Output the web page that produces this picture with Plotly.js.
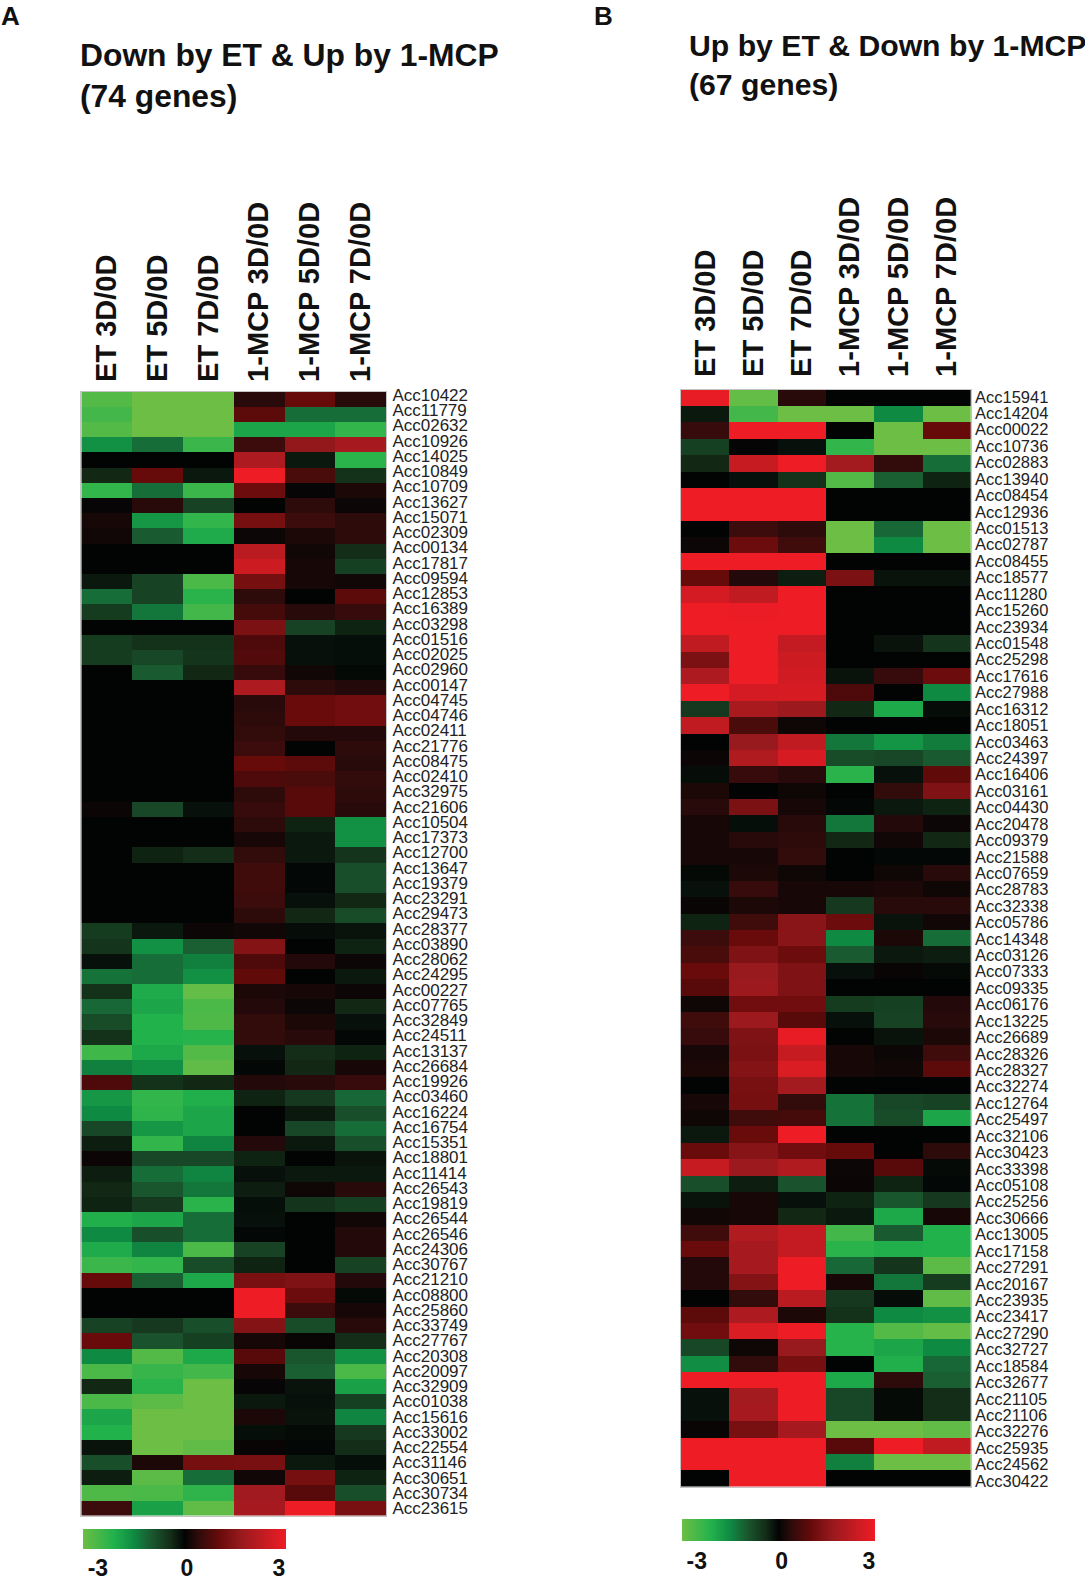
<!DOCTYPE html>
<html>
<head>
<meta charset="utf-8">
<script src="https://cdn.plot.ly/plotly-3.0.1.min.js"></script>
<style>
  html, body { margin: 0; padding: 0; background: #fff; }
  #chart { width: 1085px; height: 1581px; }
</style>
</head>
<body>
<div id="chart"></div>
<script>
const columns = ['ET 3D/0D', 'ET 5D/0D', 'ET 7D/0D', '1-MCP 3D/0D', '1-MCP 5D/0D', '1-MCP 7D/0D'];

const genesA = [
  'Acc10422','Acc11779','Acc02632','Acc10926','Acc14025','Acc10849','Acc10709','Acc13627','Acc15071','Acc02309',
  'Acc00134','Acc17817','Acc09594','Acc12853','Acc16389','Acc03298','Acc01516','Acc02025','Acc02960','Acc00147',
  'Acc04745','Acc04746','Acc02411','Acc21776','Acc08475','Acc02410','Acc32975','Acc21606','Acc10504','Acc17373',
  'Acc12700','Acc13647','Acc19379','Acc23291','Acc29473','Acc28377','Acc03890','Acc28062','Acc24295','Acc00227',
  'Acc07765','Acc32849','Acc24511','Acc13137','Acc26684','Acc19926','Acc03460','Acc16224','Acc16754','Acc15351',
  'Acc18801','Acc11414','Acc26543','Acc19819','Acc26544','Acc26546','Acc24306','Acc30767','Acc21210','Acc08800',
  'Acc25860','Acc33749','Acc27767','Acc20308','Acc20097','Acc32909','Acc01038','Acc15616','Acc33002','Acc22554',
  'Acc31146','Acc30651','Acc30734','Acc23615'
];

const valuesA = [
  [-2.7,-3,-3,.35,1,.35],
  [-2.5,-3,-3,.9,-1.2,-1.2],
  [-2.7,-3,-3,-1.9,-1.9,-2.3],
  [-1.6,-1.2,-2.4,.55,1.6,1.9],
  [0,0,0,2,-.2,-2.2],
  [-.35,1,-.2,3,.7,-.45],
  [-2.3,-1.2,-2.4,1.1,.05,.25],
  [.05,.35,-.7,0,.4,.1],
  [.2,-1.7,-2.3,1.2,.55,.4],
  [.15,-1,-2,.1,.25,.4],
  [0,0,0,2.2,.15,-.4],
  [0,0,0,2.5,.2,-.65],
  [-.2,-.7,-2.6,1.2,.2,.15],
  [-1.2,-.7,-2.2,.4,0,.9],
  [-.6,-1.3,-2.5,.65,.35,.5],
  [0,0,0,1.3,-.7,-.3],
  [-.6,-.45,-.45,.75,-.12,-.1],
  [-.6,-.75,-.5,.8,-.12,-.1],
  [0,-1,-.35,.5,.15,-.05],
  [0,0,0,2,.4,.3],
  [0,0,0,.35,1.05,1.15],
  [0,0,0,.4,1.05,1.15],
  [0,0,0,.45,.3,.3],
  [0,0,0,.55,0,.4],
  [0,0,0,1,.9,.35],
  [0,0,0,.75,.7,.45],
  [0,0,0,.4,.85,.4],
  [.08,-.75,-.12,.5,.85,.35],
  [0,0,0,.4,-.3,-1.6],
  [0,0,0,.2,-.2,-1.6],
  [0,-.3,-.4,.45,-.2,-.5],
  [0,0,0,.6,-.03,-.85],
  [0,0,0,.6,-.03,-.85],
  [0,0,0,.55,-.12,-.35],
  [0,0,0,.4,-.35,-.8],
  [-.6,-.2,.1,.15,-.08,-.15],
  [-.5,-1.6,-1.05,1.4,0,-.3],
  [-.12,-1.2,-1.4,.75,.3,.1],
  [-1.25,-1.2,-1.6,.95,0,-.2],
  [-.45,-2,-2.9,.25,.2,.1],
  [-1.15,-1.9,-2.6,.3,.1,-.35],
  [-.8,-2.1,-2.65,.45,.25,-.12],
  [-.45,-2.1,-2.15,.45,.35,-.03],
  [-2.45,-1.95,-2.7,-.12,-.4,-.3],
  [-1.4,-1.6,-2.85,-.03,-.35,.2],
  [.75,-.45,-.35,.3,.35,.5],
  [-1.7,-2.3,-2.05,-.3,-.55,-1.15],
  [-1.5,-2.25,-1.9,0,-.2,-.85],
  [-.75,-1.7,-1.9,0,-.75,-1.2],
  [-.25,-2.3,-1.45,.3,-.2,-.85],
  [.08,-.75,-.75,-.3,0,-.15],
  [-.25,-1.2,-1.45,-.12,-.2,-.2],
  [-.35,-.95,-1.3,-.25,.12,.35],
  [-.3,-.55,-2.2,-.1,-.5,-.65],
  [-2.05,-1.9,-1.2,-.12,0,.15],
  [-1.5,-.85,-1.2,-.03,0,.3],
  [-2,-1.45,-2.6,-.7,0,.3],
  [-2.4,-2.3,-.8,-.3,0,-.7],
  [1,-1.05,-1.95,1.25,1.35,.3],
  [0,0,0,3,1.1,-.06],
  [0,0,0,3,.55,.2],
  [-.7,-.55,-.85,1.4,-.8,.35],
  [1.05,-.9,-.65,.2,.06,-.4],
  [-1.5,-2.7,-1.95,.85,-.95,-1.6],
  [-2.6,-2.35,-2.5,.2,-1.05,-2.6],
  [-.35,-2.2,-3,.05,-.15,-1.85],
  [-2.6,-2.8,-3,-.2,-.12,-.65],
  [-1.9,-3,-3,.25,-.15,-1.45],
  [-2.1,-3,-3,-.1,-.06,-.55],
  [-.15,-3,-2.85,.06,-.03,-.4],
  [-.85,.25,1.2,1.25,-.2,-.1],
  [-.25,-2.8,-1.2,.15,1.2,-.3],
  [-2.65,-2.6,-2.25,1.8,.85,-.85],
  [.55,-1.85,-2.85,1.9,3,1.25]
];

const genesB = [
  'Acc15941','Acc14204','Acc00022','Acc10736','Acc02883','Acc13940','Acc08454','Acc12936','Acc01513','Acc02787',
  'Acc08455','Acc18577','Acc11280','Acc15260','Acc23934','Acc01548','Acc25298','Acc17616','Acc27988','Acc16312',
  'Acc18051','Acc03463','Acc24397','Acc16406','Acc03161','Acc04430','Acc20478','Acc09379','Acc21588','Acc07659',
  'Acc28783','Acc32338','Acc05786','Acc14348','Acc03126','Acc07333','Acc09335','Acc06176','Acc13225','Acc26689',
  'Acc28326','Acc28327','Acc32274','Acc12764','Acc25497','Acc32106','Acc30423','Acc33398','Acc05108','Acc25256',
  'Acc30666','Acc13005','Acc17158','Acc27291','Acc20167','Acc23935','Acc23417','Acc27290','Acc32727','Acc18584',
  'Acc32677','Acc21105','Acc21106','Acc32276','Acc25935','Acc24562','Acc30422'
];

const valuesB = [
  [2.9,-2.9,.35,0,0,0],
  [-.2,-2.5,-3,-3,-1.5,-3],
  [.5,3,3,0,-3,1],
  [-.65,.03,-.12,-2.3,-3,-3],
  [-.35,2.4,3,1.85,.45,-1.2],
  [0,-.12,-.45,-2.7,-1.05,-.3],
  [3,3,3,0,0,0],
  [3,3,3,0,0,0],
  [0,.55,.4,-3,-1.15,-3],
  [.1,1.1,.6,-3,-1.5,-3],
  [3,3,3,0,0,0],
  [1,.3,-.25,1.3,-.15,-.15],
  [2.6,2.3,3,0,0,0],
  [3,2.95,3,0,0,0],
  [3,3,3,0,0,0],
  [2.3,3,2.35,0,-.15,-.5],
  [1.3,3,2.5,0,0,0],
  [2,3,2.55,-.15,.5,1.1],
  [3,2.6,2.65,.75,0,-1.5],
  [-.55,1.95,1.75,-.35,-1.95,-.08],
  [2.3,.7,.12,0,0,0],
  [0,1.7,2.3,-1.3,-1.65,-1.35],
  [.08,2.05,2.65,-.8,-.75,-1],
  [-.08,.5,.35,-2.2,-.12,.95],
  [.25,0,.12,0,.45,1.35],
  [.35,1.3,.2,-.03,-.2,-.3],
  [.2,-.1,.35,-1.3,.3,.1],
  [.2,.35,.4,-.35,.15,-.35],
  [.2,.2,.45,0,-.03,-.03],
  [-.05,.25,.12,0,.12,.35],
  [-.12,.5,.2,.2,.25,.12],
  [.06,.25,.2,-.55,.35,.35],
  [-.3,.6,1.5,1.1,-.15,.15],
  [.55,1.05,1.5,-1.5,.25,-1.2],
  [.7,1.35,1.1,-1,-.2,-.25],
  [1.05,1.7,1.35,-.12,.06,-.06],
  [.85,1.75,1.35,0,0,0],
  [.12,1.15,1.15,-.6,-.65,.3],
  [.6,1.75,.85,-.12,-.7,.35],
  [.5,1.35,2.9,0,-.15,.25],
  [.2,1.3,2.4,.2,.1,.6],
  [.25,1.4,2.7,.2,.15,.9],
  [0,1.25,1.85,0,0,0],
  [.2,1.2,.45,-1.25,-.75,-.7],
  [.12,.6,.65,-1.25,-.8,-1.9],
  [-.2,1.05,3,0,0,0],
  [1.05,1.45,1.15,1,0,.4],
  [2.4,1.75,2.05,.1,.85,-.06],
  [-.85,-.25,-.9,.08,-.3,-.03],
  [-.15,.2,-.12,-.3,-.95,-.55],
  [.15,.2,-.35,-.2,-1.95,.2],
  [.6,2.05,2.35,-2.5,-1,-2.1],
  [1.05,1.9,2.35,-2.2,-2.05,-2.1],
  [.3,1.9,3,-1.15,-.5,-2.8],
  [.3,1.4,3,.2,-1.3,-.6],
  [0,.45,2.2,-.55,-.08,-2.85],
  [.9,2,.25,-.45,-1.5,-1.6],
  [1.15,2.7,3,-2.15,-2.7,-2.9],
  [-.75,.12,1.7,-2.15,-1.9,-1.5],
  [-1.55,.45,1.2,0,-2.05,-1.15],
  [3,3,3,-1.95,.4,-1.05],
  [-.12,1.85,3,-.75,-.06,-.4],
  [-.12,1.9,3,-.75,-.06,-.4],
  [.06,1.25,1.9,-3,-3,-2.85],
  [3,3,3,.85,3,2.3],
  [3,3,3,-1.4,-3,-3],
  [0,3,3,0,0,0]
];

const scaleTicks = ['-3', '0', '3'];

const W = 1085, H = 1581;
const FONT = '"Liberation Sans", Arial, sans-serif';

// green - black - red, stops picked off the reference key
const colorscale = [
  [0, '#6cbe45'],
  [0.15, '#22b24c'],
  [0.25, '#0f8a43'],
  [0.333, '#1a5a30'],
  [0.433, '#142d18'],
  [0.5, '#020404'],
  [0.567, '#2e0b0b'],
  [0.667, '#660a0a'],
  [0.783, '#991a1e'],
  [1, '#ee1c25']
];

const px = x => x / W;
const py = y => 1 - y / H;

// one heatmap trace with its own key underneath
function heatTrace(values, xa, ya, key) {
  return {
    type: 'heatmap',
    z: values,
    x: columns,
    y: values.map((row, i) => i),
    xaxis: xa,
    yaxis: ya,
    zmin: -3,
    zmax: 3,
    colorscale: colorscale,
    colorbar: {
      orientation: 'h',
      x: px(key.left),
      xanchor: 'left',
      y: py(key.top),
      yanchor: 'top',
      lenmode: 'pixels',
      len: key.width,
      thickness: key.height,
      thicknessmode: 'pixels',
      xpad: 0,
      ypad: 0,
      outlinewidth: 0,
      borderwidth: 0,
      tickmode: 'array',
      tickvals: key.tickvals,
      ticktext: scaleTicks,
      ticks: 'outside',
      ticklen: key.gap,
      tickcolor: 'rgba(0,0,0,0)',
      tickfont: { family: FONT, size: 23, color: '#111', weight: 'bold' }
    }
  };
}

function xAxis(left, right, anchor, gap) {
  return {
    domain: [px(left), px(right)],
    anchor: anchor,
    side: 'top',
    type: 'category',
    tickangle: -90,
    ticks: 'outside',
    ticklen: gap,
    tickcolor: 'rgba(0,0,0,0)',
    showgrid: false,
    zeroline: false,
    showline: true,
    linecolor: '#c4c4c4',
    linewidth: 1,
    mirror: true,
    tickfont: { family: FONT, size: 29, color: '#111', weight: 'bold' }
  };
}

// gene labels were set by hand in the original, they drift against the rows
function yAxis(top, bottom, anchor, genes, shiftFirst, shiftLast, size, gap) {
  const last = genes.length - 1;
  return {
    domain: [py(bottom), py(top)],
    anchor: anchor,
    side: 'right',
    range: [genes.length - 0.5, -0.5],
    tickmode: 'array',
    tickvals: genes.map((g, i) => i + shiftFirst + (shiftLast - shiftFirst) * i / last),
    ticktext: genes,
    ticks: 'outside',
    ticklen: gap,
    tickcolor: 'rgba(0,0,0,0)',
    showgrid: false,
    zeroline: false,
    showline: true,
    linecolor: '#c4c4c4',
    linewidth: 1,
    mirror: true,
    tickfont: { family: FONT, size: size, color: '#222' }
  };
}

function note(text, x, y, size) {
  return {
    text: text,
    xref: 'paper',
    yref: 'paper',
    x: px(x),
    y: py(y),
    xanchor: 'left',
    yanchor: 'top',
    align: 'left',
    showarrow: false,
    borderpad: 0,
    font: { family: FONT, size: size, color: '#111', weight: 'bold' }
  };
}

const traces = [
  heatTrace(valuesA, 'x', 'y', { left: 82.7, top: 1529, width: 203, height: 20, gap: 0, tickvals: [-2.55, 0.08, 2.8] }),
  heatTrace(valuesB, 'x2', 'y2', { left: 682, top: 1519, width: 193, height: 22, gap: 1, tickvals: [-2.54, 0.1, 2.81] })
];

const layout = {
  width: W,
  height: H,
  // the keys would otherwise push the margins and squeeze the heatmaps
  margin: { l: 0, r: 0, t: 0, b: 0, autoexpand: false },
  paper_bgcolor: '#fff',
  plot_bgcolor: '#fff',
  showlegend: false,
  xaxis: xAxis(81.3, 386, 'y', 3),
  yaxis: yAxis(391.7, 1515.7, 'x', genesA, -0.28, 0, 17, 2),
  xaxis2: xAxis(681, 970.7, 'y2', 6),
  yaxis2: yAxis(389.7, 1486.7, 'x2', genesB, -0.07, 0.15, 16.5, 0),
  annotations: [
    note('A', 0, 0, 26),
    note('B', 593, 0, 26),
    note('Down by ET &amp; Up by 1-MCP<br>(74 genes)', 79, 36, 31.8),
    note('Up by ET &amp; Down by 1-MCP<br>(67 genes)', 688, 28, 30.2)
  ]
};

Plotly.newPlot('chart', traces, layout, { displayModeBar: false });
</script>
</body>
</html>
